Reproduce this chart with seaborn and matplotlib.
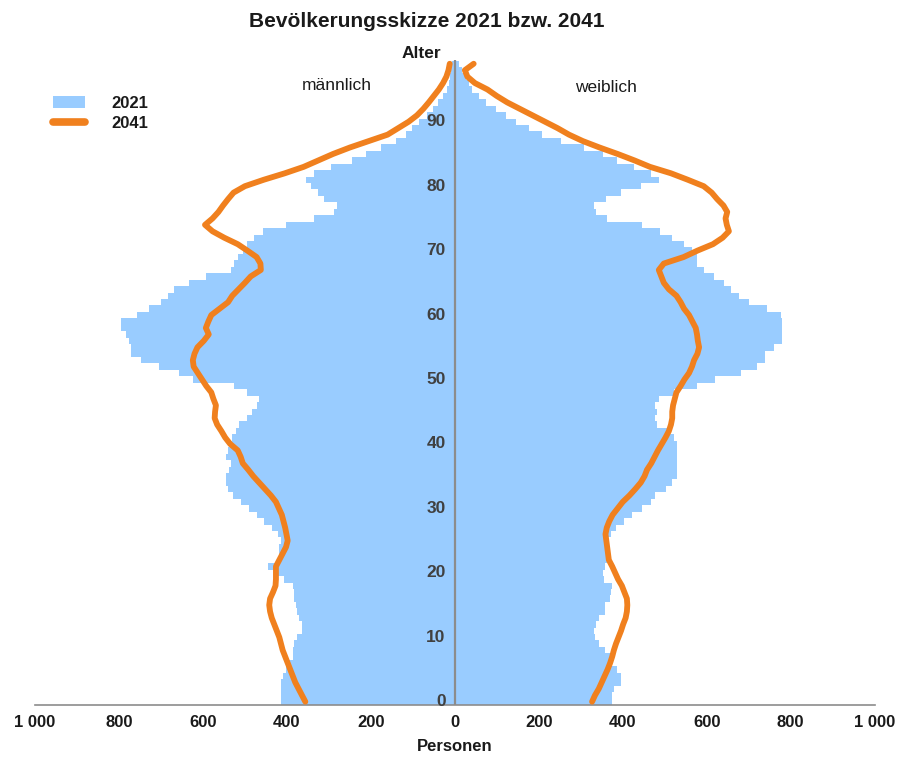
import numpy as np
import pandas as pd
import seaborn as sns
import matplotlib.pyplot as plt
from matplotlib.patches import Patch
from matplotlib.lines import Line2D

ages = list(range(100))

# Bevölkerung 2021 (Balken), Personen je Altersjahr 0..99
maenner_2021 = [
    413, 413, 415, 415, 410, 402, 398, 386, 386, 382,
    375, 363, 363, 371, 375, 378, 382, 384, 386, 406,
    426, 444, 422, 418, 418, 415, 422, 435, 454, 470,
    490, 510, 529, 541, 545, 545, 537, 533, 545, 541,
    533, 530, 521, 514, 494, 482, 470, 466, 494, 525,
    624, 656, 704, 748, 771, 771, 775, 783, 795, 795,
    756, 728, 700, 684, 668, 633, 593, 533, 525, 517,
    505, 494, 478, 458, 402, 335, 287, 281, 311, 327,
    343, 355, 335, 295, 244, 212, 176, 140, 117, 101,
    85, 65, 53, 40, 29, 19, 14, 12, 9, 6,
]
frauen_2021 = [
    375, 375, 379, 395, 395, 387, 373, 371, 359, 343,
    333, 332, 336, 343, 359, 359, 370, 371, 375, 355,
    354, 359, 363, 363, 363, 363, 371, 383, 403, 423,
    447, 467, 478, 502, 518, 530, 530, 530, 530, 530,
    530, 522, 510, 482, 478, 482, 478, 486, 522, 578,
    621, 681, 720, 740, 740, 760, 780, 780, 780, 780,
    776, 744, 700, 677, 657, 641, 617, 594, 578, 578,
    566, 546, 518, 490, 447, 363, 336, 332, 360, 395,
    443, 486, 467, 427, 387, 352, 308, 252, 208, 177,
    145, 121, 98, 74, 58, 42, 34, 26, 18, 10,
]

# Vorausberechnung 2041 (Linien)
maenner_2041 = [
    356, 364, 372, 380, 386, 392, 398, 404, 410, 414,
    418, 424, 430, 436, 440, 442, 440, 433, 427, 426,
    426, 426, 418, 410, 402, 398, 401, 404, 408, 412,
    419, 426, 438, 452, 466, 480, 492, 505, 510, 517,
    535, 547, 556, 566, 572, 571, 569, 575, 580, 592,
    602, 612, 622, 624, 620, 613, 598, 586, 593, 587,
    580, 560, 540, 530, 515, 500, 486, 462, 463, 472,
    494, 517, 549, 577, 595, 577, 563, 552, 540, 527,
    500, 455, 405, 360, 325, 290, 250, 205, 160, 135,
    110, 90, 75, 62, 50, 38, 28, 20, 15, 12,
]
frauen_2041 = [
    327, 334, 343, 350, 357, 364, 370, 375, 379, 384,
    390, 396, 401, 407, 410, 411, 410, 404, 398, 389,
    382, 375, 367, 365, 363, 361, 359, 362, 368, 376,
    388, 400, 416, 430, 443, 452, 458, 468, 476, 484,
    493, 502, 510, 515, 518, 518, 520, 524, 528, 538,
    547, 558, 565, 570, 578, 582, 579, 577, 574, 566,
    558, 546, 538, 528, 510, 498, 492, 486, 498, 545,
    578, 615, 638, 653, 648, 645, 649, 640, 625, 612,
    593, 555, 515, 465, 428, 388, 345, 305, 272, 245,
    215, 185, 155, 125, 100, 78, 48, 30, 24, 45,
]

x_ticks = [-1000, -800, -600, -400, -200, 0, 200, 400, 600, 800, 1000]
x_labels = ["1 000", "800", "600", "400", "200", "0", "200", "400", "600", "800", "1 000"]
age_labels = [0, 10, 20, 30, 40, 50, 60, 70, 80, 90]

bar_color = "#99CCFF"
line_color = "#F0801E"
text_color = "#1A1A1A"
axis_color = "#8C8C8C"

df = pd.DataFrame({
    "alter": ages,
    "m21": [-v for v in maenner_2021],
    "w21": frauen_2021,
    "m41": [-v for v in maenner_2041],
    "w41": frauen_2041,
})

sns.set_style("white")
plt.rcParams["font.family"] = ["Liberation Sans", "DejaVu Sans"]

fig = plt.figure(figsize=(8.97, 7.58), dpi=100)
ax = fig.add_axes([0.039, 0.070, 0.936, 0.851])

for col in ["m21", "w21"]:
    sns.barplot(data=df, x=col, y="alter", orient="y", native_scale=True,
                width=1.0, color=bar_color, saturation=1, linewidth=0,
                errorbar=None, ax=ax)

ax.axvline(0, color=axis_color, lw=1.6, zorder=3)

for col in ["m41", "w41"]:
    sns.lineplot(data=df, x=col, y="alter", orient="y", sort=True,
                 estimator=None, color=line_color, lw=4.2, ax=ax, zorder=4)

ax.set_xlim(-1000, 1000)
ax.set_ylim(-0.5, 99.6)
ax.set_yticks([])
ax.set_xticks(x_ticks)
ax.set_xticklabels(x_labels, fontsize=12, fontweight="bold", color=text_color)
ax.tick_params(axis="x", direction="out", length=5, width=1, color=axis_color, pad=2)
for side in ["top", "left", "right"]:
    ax.spines[side].set_visible(False)
ax.spines["bottom"].set_color(axis_color)
ax.spines["bottom"].set_linewidth(1.2)
ax.set_xlabel("Personen", fontsize=12, fontweight="bold", color=text_color, labelpad=7)
ax.set_ylabel("")

for a in age_labels:
    ax.text(-22, a, str(a), ha="right", va="center", fontsize=12.5,
            fontweight="bold", color="#404040", zorder=5)

fig.text(0.476, 0.972, "Bevölkerungsskizze 2021 bzw. 2041", ha="center", va="center",
         fontsize=15, fontweight="bold", color=text_color)
fig.text(0.492, 0.930, "Alter", ha="right", va="center", fontsize=12.5,
         fontweight="bold", color=text_color)
fig.text(0.375, 0.887, "männlich", ha="center", va="center", fontsize=12.5, color=text_color)
fig.text(0.675, 0.885, "weiblich", ha="center", va="center", fontsize=12.5, color=text_color)

handles = [Patch(facecolor=bar_color, edgecolor="none"),
           Line2D([0], [0], color=line_color, lw=5.5)]
leg = fig.legend(handles, ["2021", "2041"], loc="upper left",
                 bbox_to_anchor=(0.059, 0.874), frameon=False, fontsize=12,
                 handlelength=1.9, handletextpad=1.6, labelspacing=0.33,
                 borderpad=0, borderaxespad=0)
for t in leg.get_texts():
    t.set_fontweight("bold")
    t.set_color(text_color)

fig.savefig("out.png", dpi=100)
plt.close(fig)
